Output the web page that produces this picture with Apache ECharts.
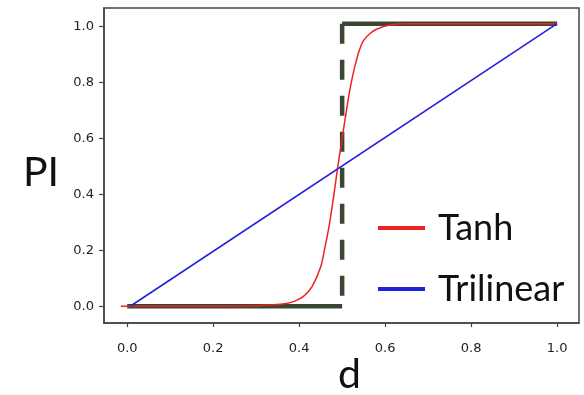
<!DOCTYPE html>
<html>
<head>
<meta charset="utf-8">
<script src="https://cdn.jsdelivr.net/npm/echarts@6/dist/echarts.min.js"></script>
<style>html,body{margin:0;padding:0;background:#fff;}#c{width:584px;height:395px;}</style>
</head>
<body>
<div id="c"></div>
<script>
// Tick labels
var xTicks = [0.0, 0.2, 0.4, 0.6, 0.8, 1.0];
var yTicks = [0.0, 0.2, 0.4, 0.6, 0.8, 1.0];
// Axis titles
var xTitle = 'd';
var yTitle = 'PI';
// Tanh curve (d, PI)
var tanhD = [-0.015, 0.0, 0.1, 0.2, 0.3, 0.34, 0.37, 0.39, 0.41, 0.43, 0.45, 0.46, 0.47, 0.48, 0.49, 0.50, 0.51, 0.52, 0.53, 0.54, 0.55, 0.565, 0.58, 0.61, 0.65, 1.0];
var tanhPI = [0.0, 0.0, 0.0, 0.0, 0.002, 0.005, 0.01, 0.018, 0.035, 0.07, 0.14, 0.21, 0.29, 0.39, 0.5, 0.6, 0.7, 0.79, 0.86, 0.915, 0.95, 0.975, 0.99, 1.005, 1.01, 1.01];
// Trilinear line
var triD = [0.007, 1.0];
var triPI = [0.0, 1.01];
// Step (hard threshold)
var stepLowD = [0.0, 0.5];
var stepLowPI = [0.0, 0.0];
var stepVertD = [0.5, 0.5];
var stepVertPI = [1.01, 0.0];
var stepHighD = [0.5, 1.0];
var stepHighPI = [1.01, 1.01];

function pairs(a, b) { return a.map(function (v, i) { return [v, b[i]]; }); }

var stepColor = '#3b4632';
var chart = echarts.init(document.getElementById('c'));
var labelStyle = { fontFamily: 'DejaVu Sans', fontSize: 13, color: '#222' };
chart.setOption({
  animation: false,
  backgroundColor: '#fff',
  grid: { left: 104, right: 5, top: 8, bottom: 72, show: true, borderColor: '#444', borderWidth: 1.5,
          containLabel: false, outerBoundsMode: 'none' },
  graphic: [
    { type: 'text', left: 23, top: 152, style: { text: yTitle, font: '41px Lato', fill: '#111' } },
    { type: 'text', left: 338, top: 354, style: { text: xTitle, font: '41px Lato', fill: '#111' } }
  ],
  xAxis: {
    type: 'value', min: -0.054, max: 1.051,
    axisLine: { onZero: false, lineStyle: { color: '#444', width: 1.5 } },
    axisTick: { length: 4, lineStyle: { color: '#444', width: 1.2 }, customValues: xTicks },
    axisLabel: Object.assign({ margin: 19, customValues: xTicks, formatter: function (v) { return v.toFixed(1); } }, labelStyle),
    splitLine: { show: false }
  },
  yAxis: {
    type: 'value', min: -0.06, max: 1.066,
    axisLine: { onZero: false, lineStyle: { color: '#444', width: 1.5 } },
    axisTick: { length: 5, lineStyle: { color: '#444', width: 1.2 }, customValues: yTicks },
    axisLabel: Object.assign({ margin: 10, customValues: yTicks, formatter: function (v) { return v.toFixed(1); } }, labelStyle),
    splitLine: { show: false }
  },
  legend: {
    orient: 'vertical', left: 378, top: 208, padding: 0,
    icon: 'rect', itemWidth: 47, itemHeight: 4, itemGap: 21,
    data: ['Tanh', 'Trilinear'],
    textStyle: { fontFamily: 'Lato', fontSize: 36, color: '#111', lineHeight: 40, padding: [0, 0, 0, 8] }
  },
  series: [
    { name: 'stepLow', type: 'line', data: pairs(stepLowD, stepLowPI), showSymbol: false, symbol: 'none',
      lineStyle: { color: stepColor, width: 4.5 }, z: 1 },
    { name: 'stepVert', type: 'line', data: pairs(stepVertD, stepVertPI), showSymbol: false, symbol: 'none',
      lineStyle: { color: stepColor, width: 4.5, type: [20, 16] }, z: 1 },
    { name: 'stepHigh', type: 'line', data: pairs(stepHighD, stepHighPI), showSymbol: false, symbol: 'none',
      lineStyle: { color: stepColor, width: 4.5 }, z: 1 },
    { name: 'Tanh', type: 'line', data: pairs(tanhD, tanhPI), showSymbol: false, symbol: 'none', smooth: 0.3,
      color: '#ee2222', lineStyle: { color: '#ee2222', width: 1.5 }, z: 3 },
    { name: 'Trilinear', type: 'line', data: pairs(triD, triPI), showSymbol: false, symbol: 'none',
      color: '#2222dd', lineStyle: { color: '#2222dd', width: 1.6 }, z: 3 }
  ]
});
</script>
</body>
</html>
